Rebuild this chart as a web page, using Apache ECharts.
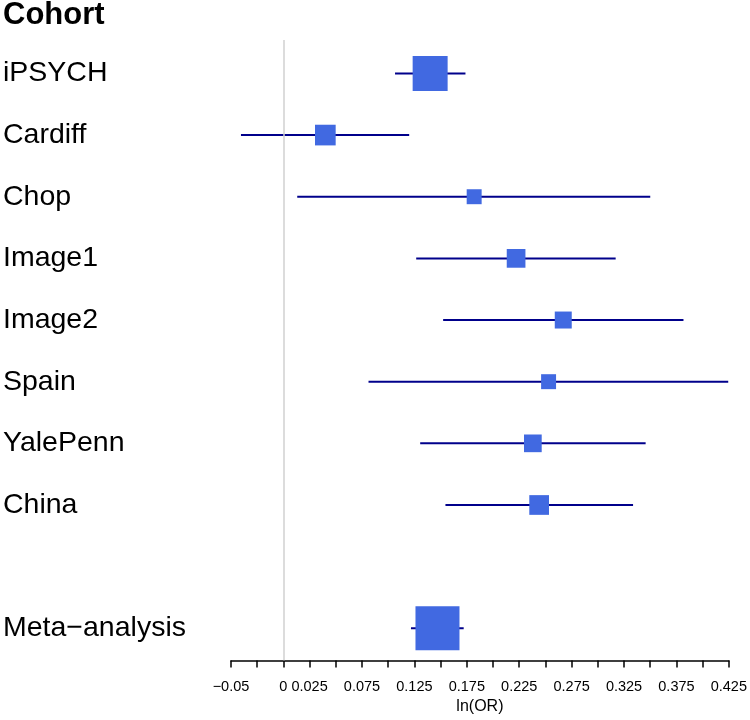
<!DOCTYPE html>
<html>
<head>
<meta charset="utf-8">
<script src="https://cdn.jsdelivr.net/npm/echarts@6/dist/echarts.min.js"></script>
<style>html,body{margin:0;padding:0;background:#fff;}#c{width:750px;height:720px;}</style>
</head>
<body>
<div id="c"></div>
<script>
var cohorts = ['iPSYCH', 'Cardiff', 'Chop', 'Image1', 'Image2', 'Spain', 'YalePenn', 'China', 'Meta\u2212analysis'];
var estimates = [0.140, 0.040, 0.182, 0.222, 0.267, 0.253, 0.238, 0.244, 0.147];
var lower = [0.1065, -0.0405, 0.0132, 0.1267, 0.1524, 0.0812, 0.1305, 0.1546, 0.1217];
var upper = [0.1737, 0.120, 0.350, 0.317, 0.3817, 0.4244, 0.3456, 0.3336, 0.172];
var weights = [0.795, 0.47, 0.34, 0.425, 0.386, 0.34, 0.402, 0.448, 1.0];
var headerLabel = 'Cohort';
var axisTitle = 'ln(OR)';
var shownTicks = [-0.05, 0, 0.025, 0.075, 0.125, 0.175, 0.225, 0.275, 0.325, 0.375, 0.425];

var FONT = "'Liberation Sans', Arial, Helvetica, sans-serif";
var data = cohorts.map(function (name, i) {
  var row = i < cohorts.length - 1 ? i + 1 : i + 2;
  return [row, estimates[i], lower[i], upper[i], weights[i], name];
});

var chart = echarts.init(document.getElementById('c'), null, {renderer: 'canvas'});
chart.setOption({
  backgroundColor: '#ffffff',
  animation: false,
  title: {
    text: headerLabel, left: 3, top: 0, padding: 0,
    textStyle: {fontFamily: FONT, fontSize: 31, fontWeight: 'bold', color: '#000'}
  },
  grid: {left: 231, right: 18.5, top: 40, bottom: 54, containLabel: false},
  xAxis: {
    type: 'value', min: -0.05, max: 0.425, interval: 0.025,
    name: axisTitle, nameLocation: 'middle', nameGap: 36,
    nameTextStyle: {fontFamily: FONT, fontSize: 16, color: '#000'},
    axisLine: {show: true, onZero: false, lineStyle: {color: '#000', width: 1.5}},
    axisTick: {show: true, length: 7, lineStyle: {color: '#000', width: 1.5}},
    splitLine: {show: false},
    axisLabel: {
      fontFamily: FONT, fontSize: 14.5, color: '#000', margin: 18.5,
      formatter: function (v) {
        var r = Math.round(v * 1000) / 1000;
        for (var k = 0; k < shownTicks.length; k++) {
          if (Math.abs(shownTicks[k] - r) < 1e-6) {
            return String(r).replace('-', '\u2212');
          }
        }
        return '';
      }
    }
  },
  yAxis: {
    type: 'value', inverse: true, min: 0.458, max: 10.524, show: false,
    splitLine: {show: false}
  },
  series: [{
    type: 'custom',
    data: data,
    encode: {x: [1, 2, 3], y: 0},
    clip: false,
    silent: true,
    markLine: {
      silent: true, symbol: 'none', label: {show: false},
      lineStyle: {color: '#d0d0d0', width: 1.5, type: 'solid'},
      data: [{xAxis: 0}]
    },
    renderItem: function (params, api) {
      var row = api.value(0);
      var c = api.coord([api.value(1), row]);
      var lo = api.coord([api.value(2), row]);
      var hi = api.coord([api.value(3), row]);
      var s = 44 * api.value(4);
      var name = data[params.dataIndex][5];
      return {
        type: 'group',
        children: [
          {type: 'line', shape: {x1: lo[0], y1: lo[1], x2: hi[0], y2: hi[1]},
           style: {stroke: '#00008B', lineWidth: 2}},
          {type: 'rect', shape: {x: c[0] - s / 2, y: c[1] - s / 2, width: s, height: s},
           style: {fill: '#4169E1'}},
          {type: 'text', x: 3, y: c[1],
           style: {text: name, fill: '#000', font: '28.5px ' + FONT,
                   textAlign: 'left', textVerticalAlign: 'middle'}}
        ]
      };
    }
  }]
});
</script>
</body>
</html>
